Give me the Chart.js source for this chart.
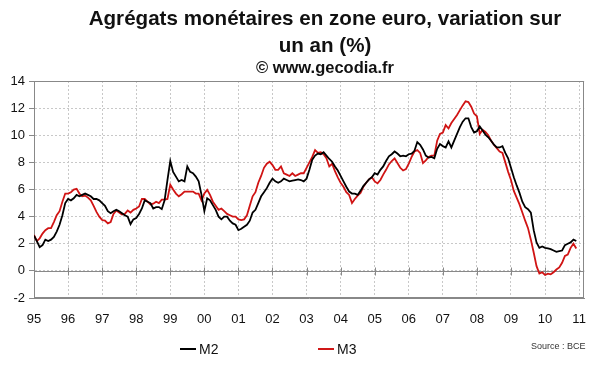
<!DOCTYPE html>
<html><head><meta charset="utf-8">
<script src="https://cdn.jsdelivr.net/npm/chart.js@4.4.0/dist/chart.umd.min.js"></script>
<style>
html,body{margin:0;padding:0;background:#fff;}
#wrap{position:relative;width:600px;height:372px;overflow:hidden;font-family:"Liberation Sans",Arial,sans-serif;}
canvas{position:absolute;left:0;top:0;}
.t{position:absolute;left:0;width:650px;text-align:center;font-weight:bold;color:#111;white-space:nowrap;}
.lg{position:absolute;font-size:14px;color:#111;line-height:16px;}
.ln{position:absolute;height:2px;}
#src{position:absolute;left:531px;top:341px;font-size:9px;color:#333;}
</style></head><body>
<div id="wrap">
<canvas id="c" width="600" height="372"></canvas>
<div class="t" style="top:5px;font-size:20.6px;line-height:25px;">Agrégats monétaires en zone euro, variation sur</div>
<div class="t" style="top:32px;font-size:20.6px;line-height:25px;">un an (%)</div>
<div class="t" style="top:58px;font-size:16.5px;line-height:19px;">© www.gecodia.fr</div>
<div class="ln" style="left:180px;top:348px;width:16px;background:#000;"></div>
<div class="lg" style="left:199px;top:341px;">M2</div>
<div class="ln" style="left:318px;top:348px;width:16px;background:#d01818;"></div>
<div class="lg" style="left:337px;top:341px;">M3</div>
<div id="src">Source : BCE</div>
</div>
<script>
const startYear = 1995;
const xTickLabels = ['95','96','97','98','99','00','01','02','03','04','05','06','07','08','09','10','11'];
const yTicks = [-2, 14, 2];
// Monthly year-on-year growth, Jan 1995 - Dec 2010
const m2 = [
 2.6,2.2,1.75,1.9,2.3,2.2,2.3,2.5,2.9,3.4,4.1,5.0,
 5.3,5.2,5.35,5.6,5.5,5.6,5.7,5.6,5.5,5.3,5.3,5.2,
 5.0,4.8,4.4,4.25,4.4,4.5,4.4,4.25,4.1,4.0,3.45,3.8,
 3.9,4.2,4.6,5.2,5.1,5.0,4.6,4.7,4.7,4.55,5.2,6.7,
 8.1,7.3,6.95,6.6,6.7,6.6,7.7,7.3,7.2,6.95,6.6,5.6,
 4.4,5.35,5.2,4.85,4.5,4.0,3.8,4.0,4.0,3.7,3.5,3.4,
 3.0,3.1,3.25,3.4,3.7,4.3,4.5,5.0,5.5,5.8,6.1,6.5,
 6.8,6.6,6.5,6.6,6.8,6.7,6.6,6.65,6.7,6.75,6.7,6.6,
 6.8,7.45,8.2,8.5,8.65,8.6,8.75,8.5,8.25,8.05,7.7,7.4,
 7.0,6.6,6.2,5.85,5.7,5.7,5.6,5.9,6.25,6.5,6.75,6.9,
 7.2,7.1,7.45,7.7,8.1,8.45,8.6,8.8,8.65,8.45,8.5,8.45,
 8.6,8.65,8.85,9.5,9.3,8.95,8.5,8.35,8.4,8.3,9.0,9.35,
 9.2,9.1,9.55,9.1,9.6,10.1,10.6,11.0,11.25,11.25,10.6,10.2,
 10.3,10.65,10.35,10.05,9.85,9.6,9.3,9.1,9.1,9.2,8.7,8.3,
 7.6,6.9,6.3,5.75,5.1,4.7,4.55,4.3,3.0,2.1,1.7,1.8,
 1.7,1.65,1.6,1.5,1.4,1.45,1.5,1.9,2.0,2.1,2.3,2.2
];
const m3 = [
 2.65,2.2,2.4,2.75,3.0,3.15,3.15,3.6,4.1,4.4,5.1,5.7,
 5.7,5.8,6.0,6.05,5.7,5.5,5.55,5.4,5.2,4.8,4.35,4.0,
 3.75,3.7,3.5,3.6,4.2,4.45,4.3,4.15,4.2,4.45,4.3,4.5,
 4.6,4.75,5.3,5.3,5.1,4.9,4.95,5.1,5.0,5.25,5.25,5.3,
 6.35,6.0,5.7,5.5,5.65,5.85,5.85,5.85,5.85,5.7,5.7,5.2,
 5.7,5.97,5.6,5.1,4.8,4.5,4.6,4.4,4.2,4.1,4.0,4.0,
 3.8,3.75,3.8,4.1,4.8,5.5,5.8,6.5,7.0,7.6,7.9,8.05,
 7.8,7.45,7.45,7.7,7.2,7.1,7.0,7.2,7.0,7.1,7.2,7.2,
 7.6,8.0,8.4,8.9,8.7,8.75,8.6,8.3,7.7,7.9,7.35,6.9,
 6.5,6.2,5.8,5.6,5.0,5.3,5.55,5.75,6.2,6.5,6.75,6.9,
 6.6,6.45,6.7,7.1,7.45,7.85,8.1,8.3,7.95,7.6,7.4,7.5,
 7.9,8.4,8.8,8.9,8.7,7.95,8.15,8.4,8.5,8.5,9.6,10.1,
 10.2,10.75,10.5,10.9,11.2,11.5,11.85,12.2,12.5,12.45,12.1,11.6,
 11.4,10.1,10.4,10.25,10.0,9.6,9.3,9.05,8.8,8.7,8.0,7.3,
 6.7,5.9,5.4,4.9,4.3,3.7,3.15,2.3,1.35,0.35,-0.2,-0.1,
 -0.3,-0.2,-0.25,-0.1,0.1,0.25,0.6,1.1,1.2,1.7,2.0,1.65
];
const toPoints = arr => arr.map((v, i) => ({x: startYear + i / 12, y: v}));

const framePlugin = {
  id: 'frame',
  beforeDatasetsDraw(chart) {
    const {ctx, chartArea: a, scales: {x, y}} = chart;
    ctx.save();
    ctx.strokeStyle = '#888';
    ctx.lineWidth = 1;
    ctx.setLineDash([]);
    ctx.strokeRect(Math.round(a.left) + 0.5, Math.round(a.top) + 0.5,
                   Math.round(a.right - a.left) - 1, Math.round(a.bottom - a.top) - 1);
    const y0 = Math.round(y.getPixelForValue(0)) + 0.5;
    ctx.beginPath();
    ctx.moveTo(a.left, y0); ctx.lineTo(a.right, y0);
    for (let i = 0; i < xTickLabels.length; i++) {
      const px = Math.round(x.getPixelForValue(startYear + i)) + 0.5;
      ctx.moveTo(px, y0 - 4); ctx.lineTo(px, y0 + 4);
    }
    ctx.stroke();
    ctx.restore();
  }
};

const tickFont = {family: '"Liberation Sans", Arial, sans-serif', size: 13};
new Chart(document.getElementById('c'), {
  type: 'line',
  data: {datasets: [
    {label: 'M2', data: toPoints(m2), borderColor: '#000', borderWidth: 1.8, pointRadius: 0, tension: 0, fill: false},
    {label: 'M3', data: toPoints(m3), borderColor: '#d01414', borderWidth: 1.8, pointRadius: 0, tension: 0, fill: false}
  ]},
  options: {
    responsive: false, animation: false, devicePixelRatio: 1,
    layout: {padding: {top: 81, right: 14, left: 0, bottom: 0}},
    plugins: {legend: {display: false}, tooltip: {enabled: false}, title: {display: false}},
    scales: {
      x: {
        type: 'linear', min: startYear, max: 2011.15,
        ticks: {stepSize: 1, includeBounds: false, autoSkip: false, maxRotation: 0, padding: 14,
                color: '#111', font: tickFont,
                callback: v => xTickLabels[Math.round(v - startYear)]},
        grid: {color: '#c8c8c8', lineWidth: 1, drawTicks: false},
        border: {display: true, color: '#888', width: 1, dash: [2, 2]},
        afterFit: s => { s.height = 74; }
      },
      y: {
        min: yTicks[0], max: yTicks[1],
        ticks: {stepSize: yTicks[2], padding: 4, color: '#111', font: tickFont},
        grid: {color: '#c8c8c8', lineWidth: 1, drawTicks: true, tickLength: 5, tickColor: '#888', tickBorderDash: []},
        border: {display: true, color: '#888', width: 1, dash: [2, 2]},
        afterFit: s => { s.width = 34; }
      }
    }
  },
  plugins: [framePlugin]
});
</script>
</body></html>
